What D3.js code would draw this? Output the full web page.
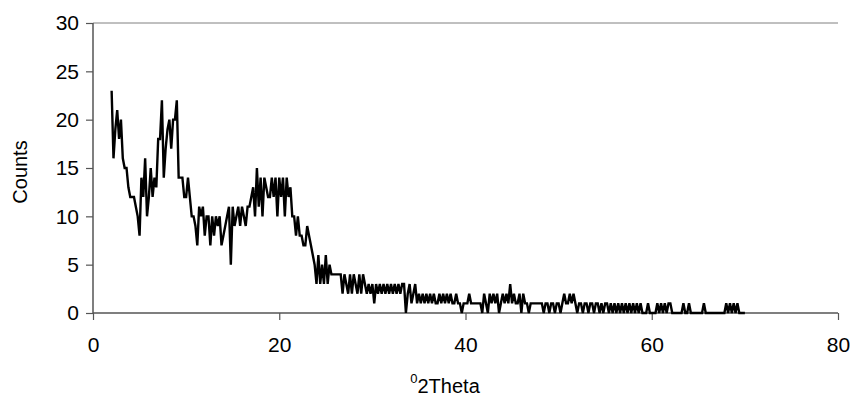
<!DOCTYPE html>
<html>
<head>
<meta charset="utf-8">
<script src="https://cdn.jsdelivr.net/npm/d3@7"></script>
<style>
  html, body { margin: 0; padding: 0; background: #fff; }
  svg { display: block; font-family: "Liberation Sans", Arial, sans-serif; }
</style>
</head>
<body>
<svg id="chart" width="858" height="406"></svg>
<script>
// Powder diffraction scan: start angle and step (degrees 2-theta), counts per step
const scanStart = 2.0;
const scanStep = 0.2;
const counts = [
  23, 16, 19, 21, 18, 20, 16, 15, 15, 13, 12, 12, 12, 11, 10,  8, 14, 12, 16, 10,
  12, 15, 12, 14, 13, 18, 18, 22, 14, 17, 19, 20, 17, 20, 20, 22, 14, 14, 14, 12,
  12, 14, 12, 10, 10,  9,  7, 11, 10, 11,  8, 10, 10,  7, 10,  8, 10,  9, 10,  7,
   8,  9, 10, 11,  5, 11,  9, 10, 11,  9, 11, 10,  9, 11, 11, 12, 13, 10, 15, 11,
  14, 10, 14, 13, 12, 12, 14, 12, 14, 10, 14, 12, 14, 10, 14, 12, 13, 10, 10,  8,
  10,  8,  8,  7,  7,  9,  8,  7,  6,  5,  3,  6,  3,  5,  3,  6,  3,  5,  4,  4,
   4,  4,  4,  4,  2,  4,  3,  2,  4,  2,  4,  3,  2,  4,  2,  4,  3,  2,  3,  2,
   3,  1,  3,  2,  3,  2,  3,  2,  3,  2,  3,  2,  3,  2,  3,  2,  3,  3,  0,  2,
   3,  1,  2,  3,  1,  2,  1,  2,  1,  2,  1,  2,  1,  2,  1,  1,  2,  1,  2,  1,
   2,  1,  2,  1,  1,  2,  1,  1,  0,  1,  1,  1,  2,  1,  1,  1,  1,  1,  1,  0,
   2,  1,  0,  2,  1,  2,  1,  2,  0,  1,  2,  1,  2,  1,  3,  1,  2,  1,  1,  2,
   0,  2,  1,  1,  0,  1,  1,  1,  1,  1,  1,  1,  0,  1,  1,  0,  1,  1,  0,  1,
   1,  0,  1,  2,  1,  1,  2,  1,  2,  1,  0,  1,  1,  0,  1,  1,  0,  1,  1,  0,
   1,  1,  0,  1,  0,  1,  1,  0,  1,  0,  1,  0,  1,  0,  1,  0,  1,  0,  1,  0,
   1,  0,  1,  0,  1,  0,  0,  0,  1,  0,  0,  0,  0,  1,  0,  1,  0,  1,  0,  1,
   1,  0,  0,  0,  0,  0,  0,  1,  0,  0,  1,  0,  0,  0,  0,  0,  0,  0,  1,  0,
   0,  0,  0,  0,  0,  0,  0,  0,  0,  0,  1,  0,  1,  0,  1,  0,  1,  0,  0,  0,
   0
];

const xTicks = [0, 20, 40, 60, 80];
const yTicks = [0, 5, 10, 15, 20, 25, 30];
const xTitleSup = "0";
const xTitleMain = "2Theta";
const yTitle = "Counts";

const svg = d3.select("#chart");
const plot = { left: 93, right: 838, top: 23, bottom: 313 };

const x = d3.scaleLinear().domain([0, 80]).range([plot.left, plot.right]);
const y = d3.scaleLinear().domain([0, 30]).range([plot.bottom, plot.top]);

const points = counts.map((c, i) => ({ angle: scanStart + i * scanStep, count: c }));

// top boundary line at the maximum of the count axis
svg.append("line")
  .attr("x1", plot.left).attr("x2", plot.right)
  .attr("y1", y(30)).attr("y2", y(30))
  .attr("stroke", "#808080").attr("stroke-width", 1);

// y axis
const yAxis = svg.append("g")
  .attr("transform", `translate(${plot.left},0)`)
  .call(d3.axisLeft(y).tickValues(yTicks).tickSize(7).tickPadding(7).tickFormat(d3.format("d")));

// x axis
const xAxis = svg.append("g")
  .attr("transform", `translate(0,${plot.bottom})`)
  .call(d3.axisBottom(x).tickValues(xTicks).tickSize(7).tickPadding(17).tickFormat(d3.format("d")));

[yAxis, xAxis].forEach(g => {
  g.select(".domain").attr("stroke", "#555").attr("stroke-width", 1.5);
  g.selectAll(".tick line").attr("stroke", "#555").attr("stroke-width", 1.2);
  g.selectAll(".tick text").attr("fill", "#000").style("font-size", "21px");
});
xAxis.select(".domain").attr("d", `M${plot.left},0H${plot.right}`);
yAxis.select(".domain").attr("d", `M0,${plot.bottom}V${plot.top}`);

// diffraction trace
const line = d3.line().x(d => x(d.angle)).y(d => y(d.count));
svg.append("path")
  .datum(points)
  .attr("d", line)
  .attr("fill", "none")
  .attr("stroke", "#000")
  .attr("stroke-width", 2.4)
  .attr("stroke-linejoin", "miter");

// axis titles
const xt = svg.append("text")
  .attr("x", 445).attr("y", 393)
  .attr("text-anchor", "middle")
  .style("font-size", "20px")
  .attr("fill", "#000");
xt.append("tspan").text(xTitleSup).style("font-size", "13px").attr("dy", -10);
xt.append("tspan").text(xTitleMain).attr("dy", 10);

svg.append("text")
  .attr("transform", `translate(27,${(plot.top + plot.bottom) / 2 + 4}) rotate(-90)`)
  .attr("text-anchor", "middle")
  .style("font-size", "20px")
  .attr("fill", "#000")
  .text(yTitle);
</script>
</body>
</html>
